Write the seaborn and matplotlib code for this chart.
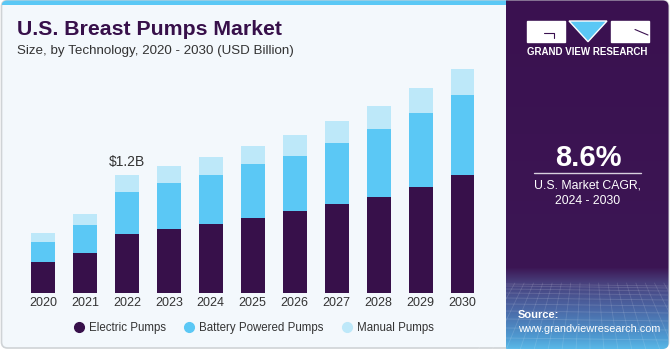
import numpy as np
import pandas as pd
import matplotlib.pyplot as plt
import seaborn as sns
from matplotlib.patches import FancyBboxPatch, Rectangle, Polygon
from matplotlib.lines import Line2D

# data (USD billion)
years = ['2020', '2021', '2022', '2023', '2024', '2025', '2026', '2027', '2028', '2029', '2030']
electric = [0.31, 0.40, 0.60, 0.65, 0.70, 0.76, 0.83, 0.90, 0.97, 1.07, 1.19]
battery = [0.21, 0.29, 0.42, 0.46, 0.49, 0.54, 0.56, 0.62, 0.69, 0.75, 0.81]
manual = [0.09, 0.11, 0.17, 0.175, 0.185, 0.19, 0.21, 0.22, 0.23, 0.25, 0.27]
series_names = ['Electric Pumps', 'Battery Powered Pumps', 'Manual Pumps']
colors = ['#37104a', '#5bc8f5', '#bde8f9']
label_year = '2022'
label_text = '\\$1.2B'
cagr_value = '8.6%'
cagr_lines = ['U.S. Market CAGR,', '2024 - 2030']

sns.set_style('white')
plt.rcParams['font.family'] = ['Liberation Sans', 'DejaVu Sans']

W, H = 671, 350
fig = plt.figure(figsize=(W / 100, H / 100), dpi=100)
fig.patch.set_facecolor('white')

# background layer in pixel coordinates (y down)
bg = fig.add_axes([0, 0, 1, 1], zorder=0)
bg.axis('off')

card = FancyBboxPatch((1.5, 0.5), 667, 347.5, boxstyle='round,pad=0,rounding_size=6',
                      facecolor='#f3f8fc', edgecolor='#cfd3d6', lw=1.2)
bg.add_patch(card)
strip = Rectangle((1.5, 0), 506, 5.3, facecolor='#5bc8f5', edgecolor='none')
bg.add_patch(strip)
strip.set_clip_path(card)

# right panel with vertical gradient
stops_y = [0, 268, 283, 310, 338, 350]
stops_c = ['#3a1150', '#3c1654', '#48407c', '#4b68a6', '#4f9bd2', '#5abbea']
rgb = np.array([[int(c[i:i + 2], 16) / 255 for i in (1, 3, 5)] for c in stops_c])
yy = np.arange(350)
grad = np.stack([np.interp(yy, stops_y, rgb[:, k]) for k in range(3)], axis=1)
grad = np.repeat(grad[:, None, :], 2, axis=1)
img = bg.imshow(grad, extent=[506, 668.5, 349, 0.5], aspect='auto', zorder=1)
panel_clip = FancyBboxPatch((470, 0.5), 198.5, 348.5, boxstyle='round,pad=0,rounding_size=6',
                            transform=bg.transData, facecolor='none', edgecolor='none')
img.set_clip_path(panel_clip)

# perspective grid decoration
vp = (588, 150)
for yh in [284, 286, 289, 293, 298, 304, 311, 319, 328, 338, 349]:
    ln, = bg.plot([506, 668], [yh, yh + 2], color='white', alpha=0.15, lw=0.6, zorder=2)
    ln.set_clip_path(panel_clip)
for xb in np.arange(380, 800, 14):
    t = (283 - vp[1]) / (350 - vp[1])
    x0 = vp[0] + (xb - vp[0]) * t
    ln, = bg.plot([x0, xb], [283, 350], color='white', alpha=0.13, lw=0.6, zorder=2)
    ln.set_clip_path(panel_clip)

# logo
bg.add_patch(Rectangle((527, 21), 38, 20.7, facecolor='white', zorder=3))
bg.add_patch(Polygon([(569, 21), (607, 21), (588, 41.7)], facecolor='#5bc8f5', zorder=3))
bg.add_patch(Rectangle((611, 21), 37.5, 20.7, facecolor='white', zorder=3))
bg.plot([544, 554, 554], [33.3, 33.3, 38], color='#3a1150', lw=0.8, zorder=4)
bg.plot([635, 648], [29.5, 35], color='#3a1150', lw=0.8, zorder=4)
bg.text(587.5, 51.7, 'GRAND VIEW RESEARCH', color='white', fontsize=7, weight='bold',
        ha='center', va='center', zorder=4)

# CAGR block
bg.text(588, 165.7, cagr_value, color='white', fontsize=21, weight='bold',
        ha='center', va='baseline', zorder=4)
bg.plot([534, 641], [173, 173], color='#d8d0de', lw=1, zorder=4)
for k, line in enumerate(cagr_lines):
    bg.text(588, 189 + 15 * k, line, color='white', fontsize=8.8, ha='center', va='baseline', zorder=4)
bg.text(518, 318.5, 'Source:', color='white', fontsize=8, weight='bold', va='baseline', zorder=4)
bg.text(518, 331.7, 'www.grandviewresearch.com', color='white', fontsize=7.8, va='baseline', zorder=4)

# titles
bg.text(17, 35, 'U.S. Breast Pumps Market', color='#37104a', fontsize=15.3, weight='bold', va='baseline')
bg.text(17, 54, 'Size, by Technology, 2020 - 2030 (USD Billion)', color='#333333', fontsize=9.6,
        va='baseline')

bg.set_xlim(0, W)
bg.set_ylim(H, 0)

# stacked bars
df = pd.DataFrame({'year': years, 'electric': electric, 'battery': battery, 'manual': manual})
df['eb'] = df['electric'] + df['battery']
df['total'] = df['eb'] + df['manual']

ax = fig.add_axes([22 / W, (H - 293) / H, (483.5 - 22) / W, (293 - 60) / H], zorder=2)
ax.set_facecolor('none')
for col, c in zip(['total', 'eb', 'electric'], colors[::-1]):
    sns.barplot(data=df, x='year', y=col, color=c, width=0.57, saturation=1, linewidth=0, ax=ax)

i = years.index(label_year)
ax.annotate(label_text, (i, df['total'][i]), xytext=(0, 7), textcoords='offset points',
            ha='center', va='baseline', fontsize=10, color='#333333')

ax.set_xlim(-0.5, len(years) - 0.5)
ax.set_ylim(0, 2.356)
ax.set_xlabel('')
ax.set_ylabel('')
ax.set_yticks([])
ax.tick_params(axis='x', length=0, pad=3, labelsize=9, labelcolor='#333333')
sns.despine(ax=ax, left=True, bottom=True)

handles = [Line2D([], [], marker='o', ls='', markersize=7, color=c) for c in colors]
fig.legend(handles, series_names, loc='center', bbox_to_anchor=(254 / W, 1 - 327.7 / H), ncol=3,
           frameon=False, fontsize=8.3, handlelength=0.8, handletextpad=0.5, columnspacing=1.6,
           labelcolor='#333333')

fig.savefig('out.png', dpi=100, facecolor=fig.get_facecolor())
